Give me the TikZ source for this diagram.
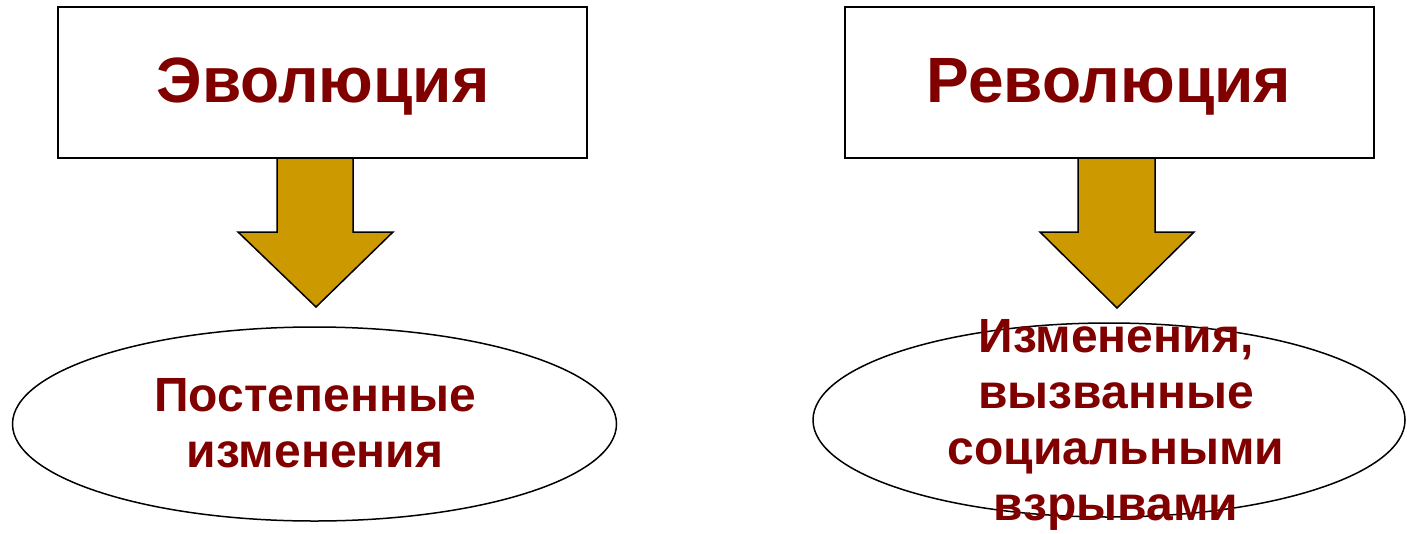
\documentclass[tikz,border=0pt]{standalone}
\usepackage{fontspec}
\setmainfont{Liberation Sans}
\usetikzlibrary{shapes.geometric}
\definecolor{txtred}{HTML}{800000}
\definecolor{arrowgold}{HTML}{CC9900}
\begin{document}
\begin{tikzpicture}[x=1pt,y=-1pt,
  titlebox/.style={draw=black,line width=2pt,fill=white,minimum width=529pt,minimum height=151pt,inner sep=0pt,text=txtred,font=\fontsize{64}{70}\selectfont\bfseries},
  titletext/.style={text=txtred,font=\fontsize{64}{70}\selectfont\bfseries,inner sep=0pt},
  oval/.style={draw=black,line width=1.5pt,ellipse,inner sep=0pt},
  ovaltext/.style={text=txtred,font=\fontsize{48}{56}\selectfont\bfseries,align=center,inner sep=0pt},
  fatarrow/.style={fill=arrowgold,draw=black,line width=1.5pt,line join=miter}]
\useasboundingbox (0,0) rectangle (1407,533);
% arrows
\draw[fatarrow] (277,158) -- (277,232) -- (238,232) -- (316,307) -- (393,232) -- (353,232) -- (353,158);
\draw[fatarrow] (1078,158) -- (1078,232) -- (1040,232) -- (1117,308) -- (1194,232) -- (1155,232) -- (1155,158);
% boxes
\node[titlebox] (evo) at (322.5,82.5) {};
\node[titlebox] (rev) at (1109,82.5) {};
\node[titletext] (evot) at (323,87) {Эволюция};
\node[titletext] (revt) at (1109,87) {Революция};
% ellipses
\node[oval,minimum width=604pt,minimum height=194pt] (e1) at (314.5,424) {};
\node[oval,minimum width=592pt,minimum height=194pt] (e2) at (1109,420) {};
\node[ovaltext] (t1) at (315,423) {Постепенные\\изменения};
\node[ovaltext] (t2) at (1116,425) {Изменения,\\вызванные\\социальными\\взрывами};
\end{tikzpicture}
\end{document}
